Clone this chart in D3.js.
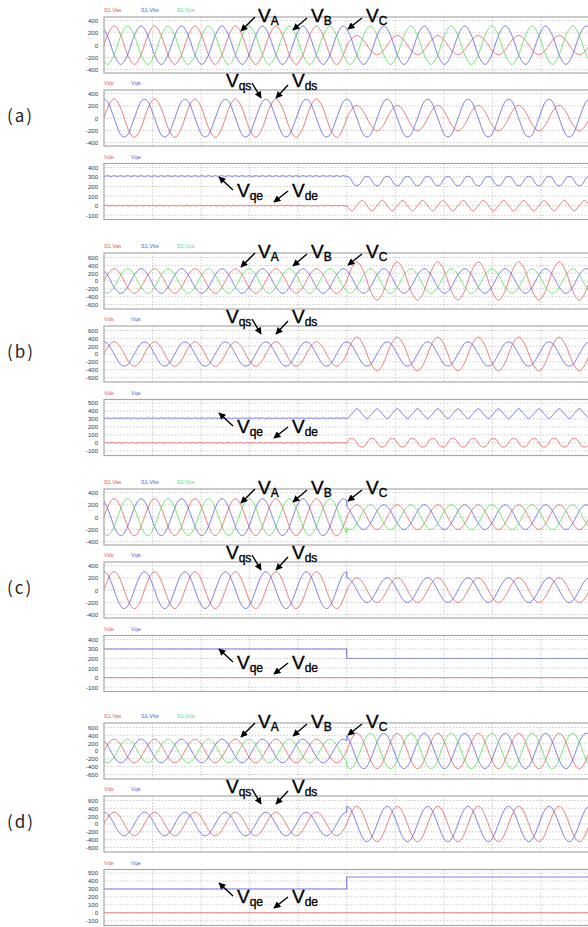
<!DOCTYPE html>
<html>
<head>
<meta charset="utf-8">
<script src="https://cdn.jsdelivr.net/npm/d3@7"></script>
<style>
  body { margin: 0; background: #fff; }
  svg { display: block; }
</style>
</head>
<body>
<svg id="chart"></svg>
<script>
const caseLabels = ['(a)', '(b)', '(c)', '(d)'];
const baseAmp = [310, 310, 300, 300];        // phase peak before the event
const phaseAScale = [0.5, 1.55, 0.67, 1.5];  // Va after the event
const phaseBCScale = [1, 1, 0.67, 1.5];      // Vb, Vc after the event
const harmonic5 = [0.012, 0.012, 0, 0];      // small ripple seen in (a), (b)
const freq = 120;
const stepTime = 0.05;
const timeEnd = 0.1;
const timeDivs = d3.range(1, 10).map(i => i * 0.01);

const abcTicks = [
    [-400, -200, 0, 200, 400],
    [-600, -400, -200, 0, 200, 400, 600],
    [-400, -200, 0, 200, 400],
    [-600, -400, -200, 0, 200, 400, 600]
];
const dqsTicks = abcTicks;
const dqeTicks = [
    [-100, 0, 100, 200, 300, 400],
    [-100, 0, 100, 200, 300, 400, 500],
    [-100, 0, 100, 200, 300, 400],
    [-100, 0, 100, 200, 300, 400, 500]
];

const abcNames = ['S1.Vas', 'S1.Vbs', 'S1.Vcs'];
const dqsNames = ['Vds', 'Vqs'];
const dqeNames = ['Vde', 'Vqe'];

const colors = { red: '#e05c5c', blue: '#5c5ce0', green: '#55dc55' };

const width = 588;
const height = 927;
const groupTops = [0, 236, 472, 706];
const panelTops = [17, 90, 163.5];
const panelH = 56;
const plotLeft = 104;
const plotRight = 589.5;

const svg = d3.select('#chart')
    .attr('width', width)
    .attr('height', height);

const defs = svg.append('defs');
defs.append('marker')
    .attr('id', 'arrow')
    .attr('viewBox', '0 0 10 10')
    .attr('refX', 9).attr('refY', 5)
    .attr('markerWidth', 5.5).attr('markerHeight', 5)
    .attr('markerUnits', 'strokeWidth')
    .attr('orient', 'auto')
    .append('path')
    .attr('d', 'M0,0 L10,5 L0,10 z')
    .attr('fill', '#000');

const x = d3.scaleLinear().domain([0, timeEnd]).range([plotLeft, plotRight]);

// y domain so that the tick values land where they sit in the picture
function yDomain(ticks, isDq) {
    const top = d3.max(ticks);
    if (isDq) return top === 400 ? [-145, 441] : [-160, 545];
    return top === 400 ? [-455, 460] : [-715, 715];
}

// sample times, with the step instant doubled so the jump is vertical
const times = d3.range(0, 2401).map(i => i / 2400 * timeEnd);
times.push(stepTime - 1e-7);
times.sort((a, b) => a - b);

function simulate(g) {
    const A = baseAmp[g];
    const h = harmonic5[g];
    const shift = 2 * Math.PI / 3;
    return times.map(t => {
        const th = 2 * Math.PI * freq * t;
        const after = t >= stepTime;
        const ka = after ? phaseAScale[g] : 1;
        const kbc = after ? phaseBCScale[g] : 1;
        const va = A * ka * (Math.sin(th) + h * Math.sin(5 * th));
        const vb = A * kbc * (Math.sin(th + shift) + h * Math.sin(5 * (th + shift)));
        const vc = A * kbc * (Math.sin(th - shift) + h * Math.sin(5 * (th - shift)));
        const vds = (2 / 3) * (va - 0.5 * vb - 0.5 * vc);
        const vqs = (vb - vc) / Math.sqrt(3);
        const vqe = vqs * Math.cos(th) + vds * Math.sin(th);
        const vde = vds * Math.cos(th) - vqs * Math.sin(th);
        return { t, va, vb, vc, vds, vqs, vqe, vde };
    });
}

function drawPanel(g, top, ticks, isDq, names, series) {
    const y = d3.scaleLinear().domain(yDomain(ticks, isDq)).range([top + panelH, top]);
    const panel = svg.append('g');
    const clipId = 'clip-' + Math.round(top);

    defs.append('clipPath').attr('id', clipId)
        .append('rect')
        .attr('x', plotLeft).attr('y', top)
        .attr('width', plotRight - plotLeft).attr('height', panelH);

    // grid
    panel.append('g').selectAll('line.h')
        .data(ticks)
        .enter().append('line')
        .attr('x1', plotLeft).attr('x2', plotRight)
        .attr('y1', d => y(d)).attr('y2', d => y(d))
        .attr('stroke', '#c4c4c4')
        .attr('stroke-width', 0.8)
        .attr('stroke-dasharray', '1.6,1.6');
    panel.append('g').selectAll('line.v')
        .data(timeDivs)
        .enter().append('line')
        .attr('x1', d => x(d)).attr('x2', d => x(d))
        .attr('y1', top).attr('y2', top + panelH)
        .attr('stroke', '#c4c4c4')
        .attr('stroke-width', 0.8)
        .attr('stroke-dasharray', '1.6,1.6');

    // traces
    const traces = panel.append('g').attr('clip-path', `url(#${clipId})`);
    series.forEach(s => {
        traces.append('path')
            .datum(s.data)
            .attr('fill', 'none')
            .attr('stroke', s.color)
            .attr('stroke-width', 0.9)
            .attr('d', d3.line().x(d => x(d.t)).y(d => y(d[s.key])));
    });

    // frame
    panel.append('rect')
        .attr('x', plotLeft).attr('y', top)
        .attr('width', plotRight - plotLeft).attr('height', panelH)
        .attr('fill', 'none')
        .attr('stroke', '#a8a8a8')
        .attr('stroke-width', 1.2);

    // tick labels
    const axis = panel.append('g')
        .attr('transform', `translate(${plotLeft - 3},0)`)
        .call(d3.axisLeft(y).tickValues(ticks).tickSize(0).tickPadding(3)
            .tickFormat(d => d < 0 ? '-' + Math.abs(d) : d));
    axis.select('.domain').remove();
    axis.selectAll('text')
        .attr('font-family', 'Liberation Sans, Arial, sans-serif')
        .attr('font-size', 6)
        .attr('fill', '#333');

    // legend names
    const legendX = names.length === 3 ? [104, 141, 177] : [104, 131];
    panel.append('g').selectAll('text')
        .data(names)
        .enter().append('text')
        .attr('x', (d, i) => legendX[i])
        .attr('y', top - 5)
        .attr('font-family', 'Liberation Sans, Arial, sans-serif')
        .attr('font-size', 5.5)
        .attr('fill', (d, i) => series[i].color)
        .text(d => d);
}

// big labels with arrows, placed relative to the group top
const annotations = [
    { sub: 'A', x: 258, y: 22, from: [255, 17], to: [241, 31] },
    { sub: 'B', x: 311, y: 22, from: [307, 18], to: [293, 30] },
    { sub: 'C', x: 366, y: 22, from: [362, 18], to: [348, 29] },
    { sub: 'qs', x: 226, y: 87, from: [252, 83], to: [261, 98] },
    { sub: 'ds', x: 292, y: 87, from: [288, 85], to: [276, 98] },
    { sub: 'qe', x: 237, y: 197, from: [233, 190], to: [219, 177] },
    { sub: 'de', x: 292, y: 197, from: [288, 191], to: [274, 202] }
];

caseLabels.forEach((label, g) => {
    const g0 = groupTops[g];
    const data = simulate(g);

    drawPanel(g, g0 + panelTops[0], abcTicks[g], false, abcNames, [
        { key: 'va', color: colors.red, data },
        { key: 'vb', color: colors.blue, data },
        { key: 'vc', color: colors.green, data }
    ]);
    drawPanel(g, g0 + panelTops[1], dqsTicks[g], false, dqsNames, [
        { key: 'vds', color: colors.red, data },
        { key: 'vqs', color: colors.blue, data }
    ]);
    drawPanel(g, g0 + panelTops[2], dqeTicks[g], true, dqeNames, [
        { key: 'vde', color: colors.red, data },
        { key: 'vqe', color: colors.blue, data }
    ]);

    svg.append('text')
        .attr('x', 7)
        .attr('y', g0 + 122)
        .attr('font-family', 'Noto Sans CJK KR, Noto Sans, sans-serif')
        .attr('font-size', 17)
        .attr('letter-spacing', 2)
        .attr('fill', '#222')
        .text(label);

    const ann = svg.append('g');
    annotations.forEach(a => {
        ann.append('line')
            .attr('x1', a.from[0]).attr('y1', g0 + a.from[1])
            .attr('x2', a.to[0]).attr('y2', g0 + a.to[1])
            .attr('stroke', '#000')
            .attr('stroke-width', 1.4)
            .attr('marker-end', 'url(#arrow)');
        const txt = ann.append('text')
            .attr('x', a.x)
            .attr('y', g0 + a.y)
            .attr('font-family', 'Liberation Sans, Arial, sans-serif')
            .attr('font-size', 19)
            .attr('fill', '#000')
            .attr('stroke', '#000')
            .attr('stroke-width', 0.35);
        txt.append('tspan').text('V');
        txt.append('tspan')
            .attr('font-size', 12)
            .attr('dy', 3)
            .text(a.sub);
    });
});
</script>
</body>
</html>
